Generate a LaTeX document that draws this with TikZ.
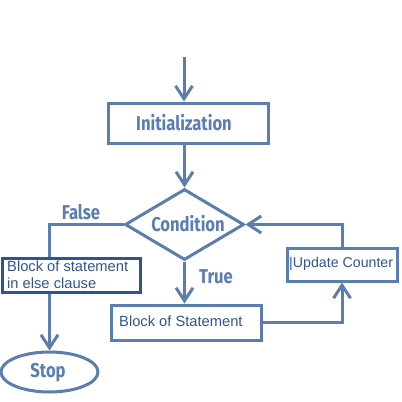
\documentclass[tikz,border=0pt]{standalone}
\usepackage{fontspec}
\setmainfont{Liberation Sans}
\newfontfamily\lblfont{Fira Sans}[FakeStretch=0.83]
\usetikzlibrary{shapes.geometric,arrows.meta}
\definecolor{fl}{HTML}{5B7DB0}
\definecolor{dk}{HTML}{2E5490}
\definecolor{tx}{HTML}{33558F}
\tikzset{
  box/.style={draw=fl, line width=3pt, inner sep=0pt, fill=white},
  lbl/.style={font=\lblfont\bfseries\fontsize{20}{23}\selectfont, text=fl, inner sep=0pt},
  body/.style={font=\fontsize{14.7}{17}\selectfont, text=tx, inner sep=0pt, align=left},
  conn/.style={draw=fl, line width=3pt},
  arr/.style={conn, -{Straight Barb[length=13pt,width=17pt,line width=3pt]}}
}
\begin{document}
\begin{tikzpicture}[x=1pt,y=-1pt]
\useasboundingbox (0,0) rectangle (402,402);
\fill[white] (0,0) rectangle (402,402);
% nodes
\node[box, minimum width=160pt, minimum height=40pt] (init) at (188,123) {};
\node[lbl] (initt) at (184,123) {Initialization};
\node[box, shape=diamond, minimum width=119pt, minimum height=71pt] (cond) at (184.5,224.5) {};
\node[lbl] (condt) at (188,224) {Condition};
\node[box, draw=dk, minimum width=138pt, minimum height=34pt] (else) at (71,275) {};
\node[body, anchor=west] (elset) at (7,275) {Block of statement\\in else clause};
\node[box, shape=ellipse, minimum width=97pt, minimum height=40pt] (stop) at (49.5,372) {};
\node[lbl] (stopt) at (48,373) {Stop};
\node[box, minimum width=150pt, minimum height=35pt] (bos) at (186,322.5) {};
\node[body, anchor=west] (bost) at (119,321) {Block of Statement};
\node[box, minimum width=110pt, minimum height=33pt] (upd) at (342,264.5) {};
\node[body, anchor=west, font=\fontsize{14.2}{17}\selectfont] (updt) at (289,264) {|Update Counter};
\node[lbl] (false) at (81,212) {False};
\node[lbl] (true) at (216,277) {True};
\coordinate (start) at (184,57);
% connectors
\draw[arr] (start) -- (start |- init.north);
\draw[arr] (cond.north |- init.south) -- (cond.north);
\draw[conn] (cond.west) -| (stop.north |- else.north);
\draw[arr] (stop.north |- else.south) -- (stop.north);
\draw[arr] (cond.south) -- (cond.south |- bos.north);
\draw[arr] (bos.east) -| (upd.south);
\draw[arr] (upd.north) |- (cond.east);
\end{tikzpicture}
\end{document}
